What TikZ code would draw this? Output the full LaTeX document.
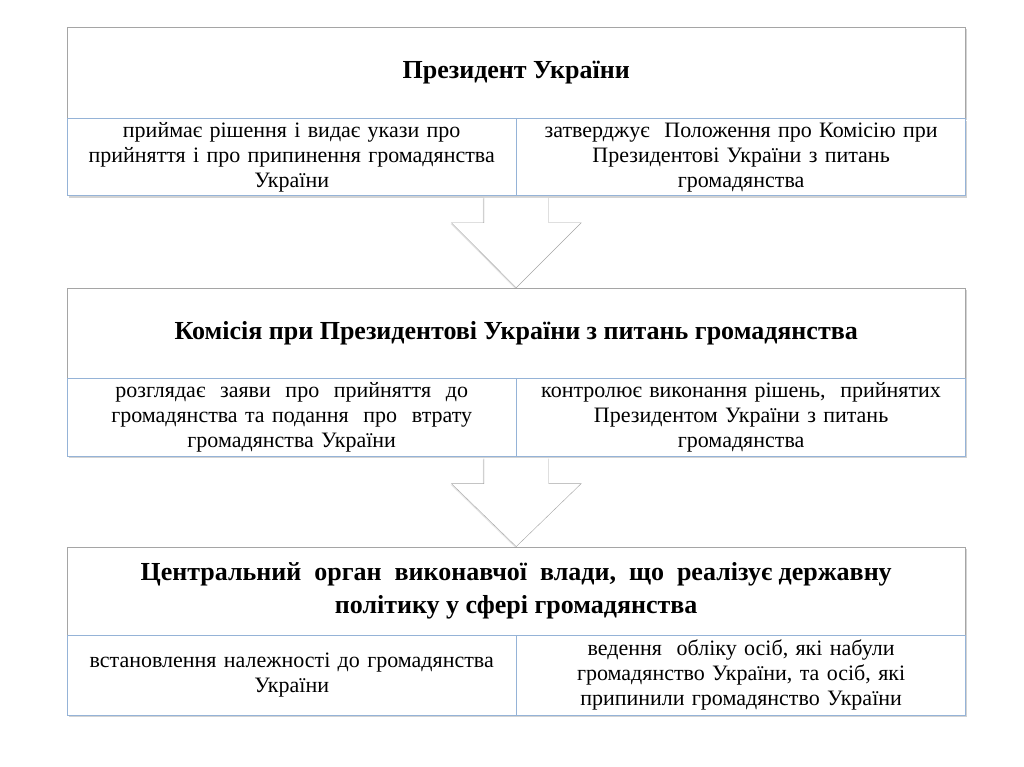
\documentclass[tikz,border=0pt]{standalone}
\usepackage{fontspec}
\setmainfont{Liberation Serif}
\usetikzlibrary{positioning}
\usetikzlibrary{calc,shadows}
\definecolor{cellline}{RGB}{149,179,215}
\definecolor{boxline}{RGB}{165,165,165}

\tikzset{
	headbox/.style={draw=boxline, fill=white, minimum width=898pt, inner sep=0pt,
		align=center, font=\fontsize{26}{32}\selectfont\bfseries,
		drop shadow={shadow xshift=1.5pt, shadow yshift=-2pt, opacity=.35}},
	cellbox/.style={draw=cellline, fill=white, minimum width=449pt, text width=445pt, inner sep=0pt,
		align=center, font=\fontsize{22}{25}\selectfont,
		drop shadow={shadow xshift=1.5pt, shadow yshift=-2pt, opacity=.35}},
	blockarrow/.style={draw=boxline, fill=white, line join=miter,
		drop shadow={shadow xshift=-1pt, shadow yshift=-1pt, opacity=.2}}
}

\begin{document}
\begin{tikzpicture}
	\useasboundingbox (0,0) rectangle (1024pt,767pt);
	% president
	\node (pres) [headbox, minimum height=91pt, anchor=north west] at (67pt,740pt) {Президент України};
	\node (pres-l) [cellbox, minimum height=77pt, below right=0pt and 0pt of pres.south west]
		{приймає рішення і видає укази про\\прийняття і про припинення громадянства\\України};
	\node (pres-r) [cellbox, minimum height=77pt, right=0pt of pres-l]
		{затверджує\ \ Положення про Комісію при\\Президентові України з питань\\громадянства};
	% commission
	\node (kom) [headbox, minimum height=90pt, below right=92pt and 0pt of pres-l.south west]
		{Комісія при Президентові України з питань громадянства};
	\node (kom-l) [cellbox, minimum height=78pt, below right=0pt and 0pt of kom.south west]
		{розглядає\ \ заяви\ \ про\ \ прийняття\ \ до\\громадянства та подання\ \ про\ \ втрату\\громадянства України};
	\node (kom-r) [cellbox, minimum height=78pt, right=0pt of kom-l]
		{контролює виконання рішень,\ \ прийнятих\\Президентом України з питань\\громадянства};
	% central body
	\node (cob) [headbox, minimum height=88pt, below right=90pt and 0pt of kom-l.south west]
		{Центральний\ \ орган\ \ виконавчої\ \ влади,\ \ що\ \ реалізує державну\\[1pt]політику у сфері громадянства};
	\node (cob-l) [cellbox, minimum height=80pt, below right=0pt and 0pt of cob.south west]
		{встановлення належності до громадянства\\України};
	\node (cob-r) [cellbox, minimum height=80pt, right=0pt of cob-l]
		{ведення\ \ обліку осіб, які набули\\громадянство України, та осіб, які\\припинили громадянство України};
	% block arrows
	\draw [blockarrow] ($(pres-l.south east)+(-32.5pt,-2pt)$) -- ++(0,-25pt) -- ++(-32.5pt,0)
		-- (kom.north) -- ++(65pt,65pt) -- ++(-32.5pt,0) -- ++(0,25pt);
	\draw [blockarrow] ($(kom-l.south east)+(-32.5pt,-2pt)$) -- ++(0,-25pt) -- ++(-32.5pt,0)
		-- (cob.north) -- ++(65pt,63pt) -- ++(-32.5pt,0) -- ++(0,25pt);
\end{tikzpicture}
\end{document}
